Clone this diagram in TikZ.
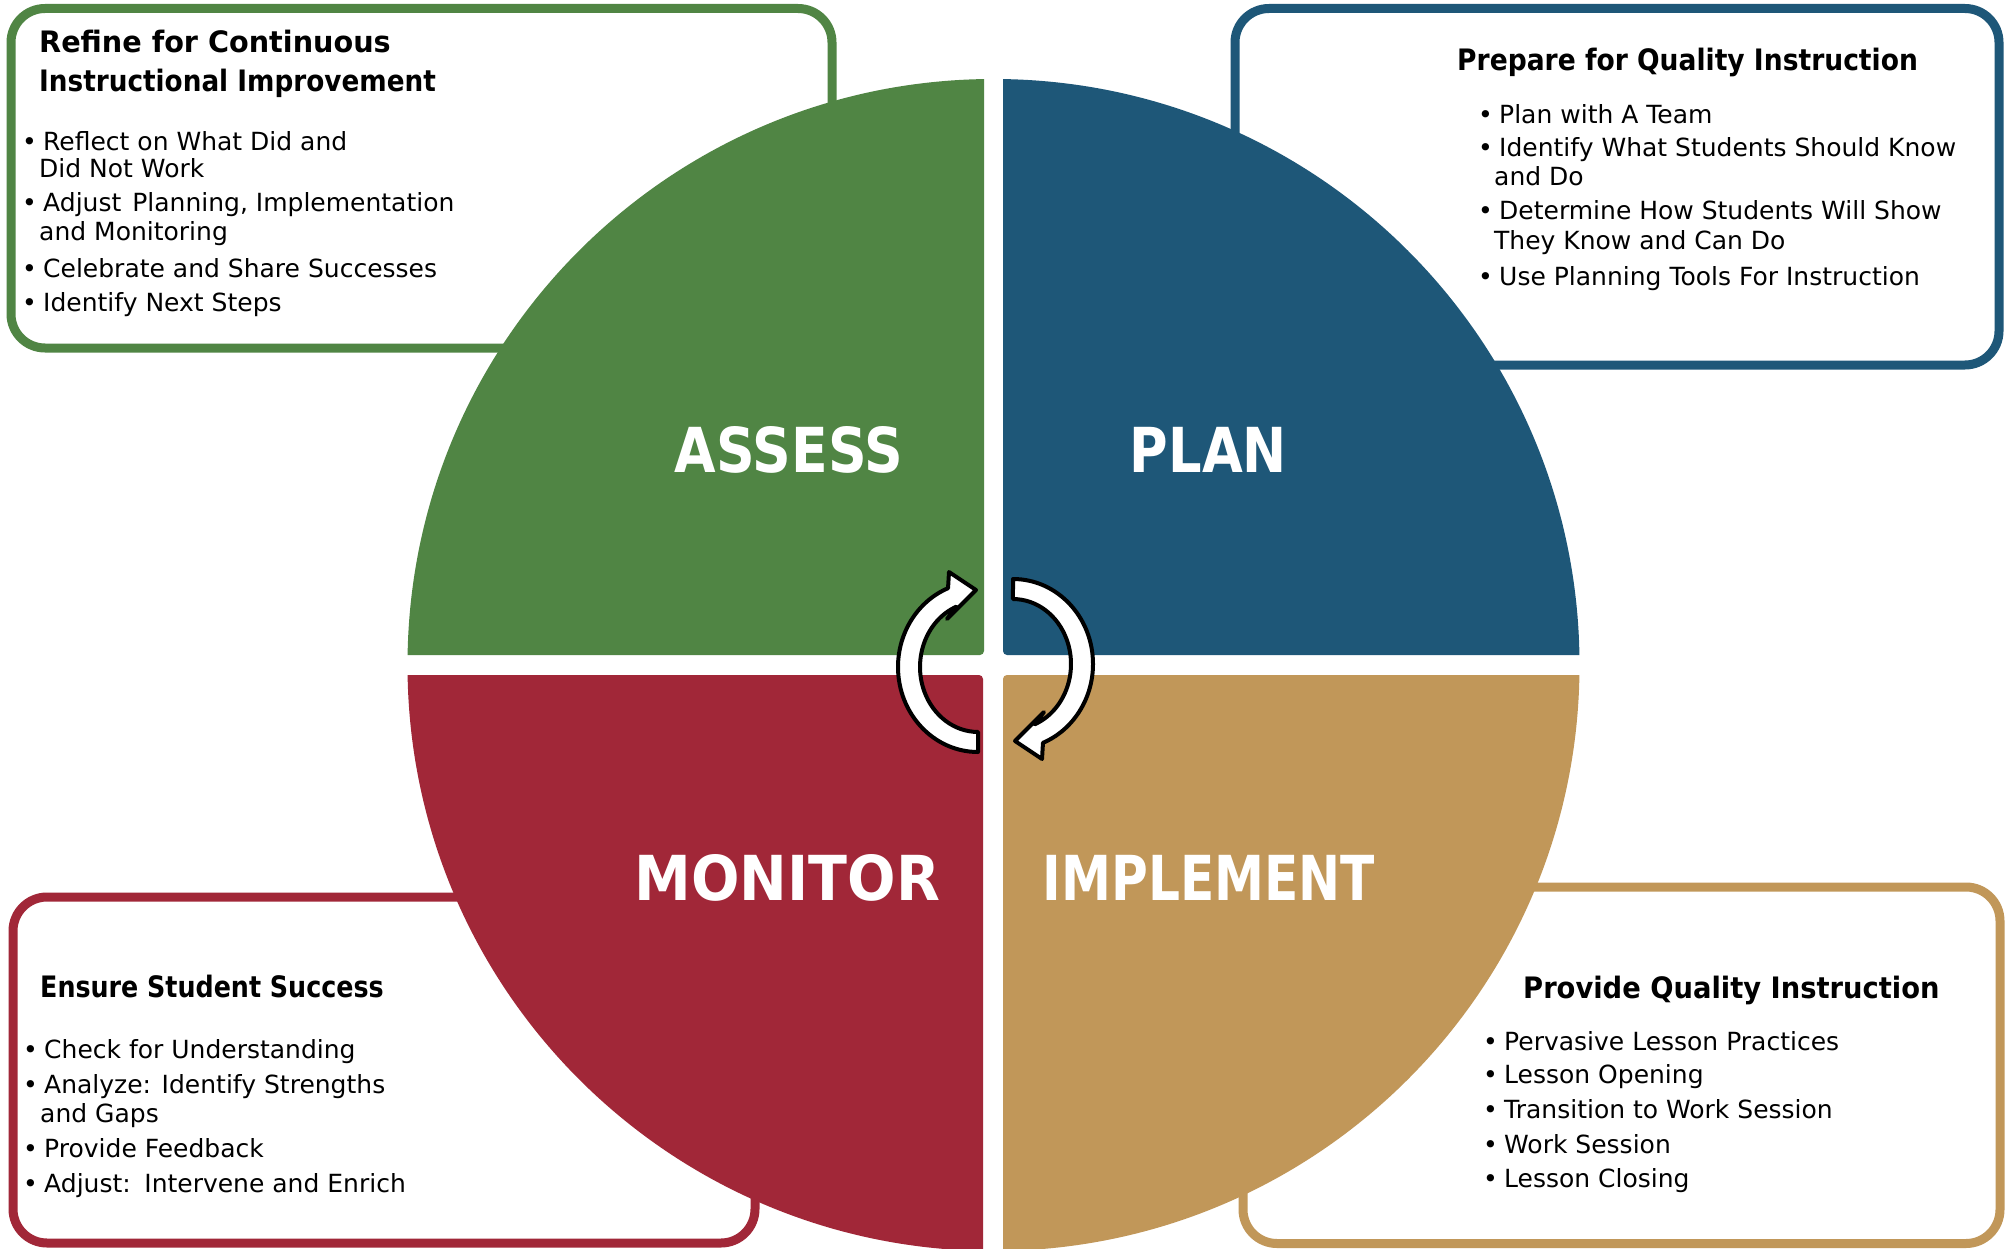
\documentclass[tikz,border=0pt]{standalone}
\usepackage{fontspec}
\usepackage{graphicx}
\setmainfont{DejaVu Sans}
\newfontfamily\ttlfont{DejaVu Sans}[FakeStretch=0.9]
\definecolor{cgreen}{RGB}{80,133,68}
\definecolor{cblue}{RGB}{30,87,120}
\definecolor{cred}{RGB}{161,39,56}
\definecolor{cgold}{RGB}{193,151,89}
\begin{document}
\begin{tikzpicture}[x=1pt,y=-1pt,
  box/.style={line width=9pt, rounded corners=34pt},
  body/.style={anchor=base west, inner sep=0pt, font=\fontsize{25}{30}\selectfont},
  bul/.style={body, execute at begin node={\makebox[21pt][l]{\textbullet}}},
  ttl/.style={anchor=base west, inner sep=0pt, font=\ttlfont\bfseries\fontsize{29.5}{34}\selectfont},
  big/.style={anchor=base, inner sep=0pt, text=white, font=\bfseries\fontsize{62}{70}\selectfont},
  cyc/.style={draw=black, fill=white, line width=4pt, line join=round}]
\useasboundingbox (0,0) rectangle (2007,1249);
\fill[white] (0,0) rectangle (2007,1249);
\coordinate (O) at (993.5,665);
% boxes
\draw[box, cgreen] (11,8.5) rectangle (832,348);
\draw[box, cblue] (1235,8.5) rectangle (1999,365);
\draw[box, cred] (13,897) rectangle (755,1243);
\draw[box, cgold] (1243,887) rectangle (2000,1243.5);
% quadrants
\begin{scope}
\clip[rounded corners=4pt] (0,0) rectangle (984,655);
\fill[cgreen] (O) circle[radius=586];
\end{scope}
\begin{scope}
\clip[rounded corners=4pt] (1003,0) rectangle (2007,655);
\fill[cblue] (O) circle[radius=586];
\end{scope}
\begin{scope}
\clip[rounded corners=4pt] (0,675) rectangle (983,1400);
\fill[cred] (O) circle[radius=586];
\end{scope}
\begin{scope}
\clip[rounded corners=4pt] (1003,675) rectangle (2007,1400);
\fill[cgold] (O) circle[radius=586];
\end{scope}
% labels
\node[big] (assess) at (789,472) {\scalebox{0.866}[1]{ASSESS}};
\node[big] (plan) at (1208.5,472) {\scalebox{0.85}[1]{PLAN}};
\node[big] (monitor) at (787.5,900) {\scalebox{0.92}[1]{MONITOR}};
\node[big] (implement) at (1209,900) {\scalebox{0.81}[1]{IMPLEMENT}};
% cycle arrows
\draw[cyc] (978,752) arc[start angle=90,end angle=248,x radius=80,y radius=85]
  -- (949,572) -- (976,590) -- (947,619) -- (956.3,606.7)
  arc[start angle=248,end angle=90,x radius=58,y radius=65] -- cycle;
\begin{scope}[rotate around={180:(995.5,665.5)}]
\draw[cyc] (978,752) arc[start angle=90,end angle=248,x radius=80,y radius=85]
  -- (949,572) -- (976,590) -- (947,619) -- (956.3,606.7)
  arc[start angle=248,end angle=90,x radius=58,y radius=65] -- cycle;
\end{scope}
% green box text
\node[ttl] (gt1) at (39,53) {\scalebox{1.08}[1]{Refine for Continuous}};
\node[ttl] (gt2) at (39,92) {\scalebox{0.99}[1]{Instructional Improvement}};
\node[bul] (g1) at (22,151) {Reflect on What Did and};
\node[body] (g1b) at (39,178) {Did Not Work};
\node[bul] (g2) at (22,212) {Adjust\hspace{3pt} Planning, Implementation};
\node[body] (g2b) at (39,241) {and Monitoring};
\node[bul] (g3) at (22,277) {Celebrate and Share Successes};
\node[bul] (g4) at (22,311) {Identify Next Steps};
% blue box text
\node[ttl] (bt1) at (1457,71) {\scalebox{1.0}[1]{Prepare for Quality Instruction}};
\node[bul] (b1) at (1478,124) {Plan with A Team};
\node[bul] (b2) at (1478,157) {Identify What Students Should Know};
\node[body] (b2b) at (1494,186) {and Do};
\node[bul] (b3) at (1478,220) {Determine How Students Will Show};
\node[body] (b3b) at (1494,250) {They Know and Can Do};
\node[bul] (b4) at (1478,285) {Use Planning Tools For Instruction};
% red box text
\node[ttl] (rt1) at (40,997) {\scalebox{0.955}[1]{Ensure Student Success}};
\node[bul] (r1) at (23,1058) {Check for Understanding};
\node[bul] (r2) at (23,1093) {Analyze: Identify Strengths};
\node[body] (r2b) at (40,1122) {and Gaps};
\node[bul] (r3) at (23,1157) {Provide Feedback};
\node[bul] (r4) at (23,1192) {Adjust:\hspace{3pt} Intervene and Enrich};
% gold box text
\node[ttl] (yt1) at (1523,998) {\scalebox{1.03}[1]{Provide Quality Instruction}};
\node[bul] (y1) at (1483,1050) {Pervasive Lesson Practices};
\node[bul] (y2) at (1483,1083) {Lesson Opening};
\node[bul] (y3) at (1483,1118) {Transition to Work Session};
\node[bul] (y4) at (1483,1153) {Work Session};
\node[bul] (y5) at (1483,1187) {Lesson Closing};
\end{tikzpicture}
\end{document}
